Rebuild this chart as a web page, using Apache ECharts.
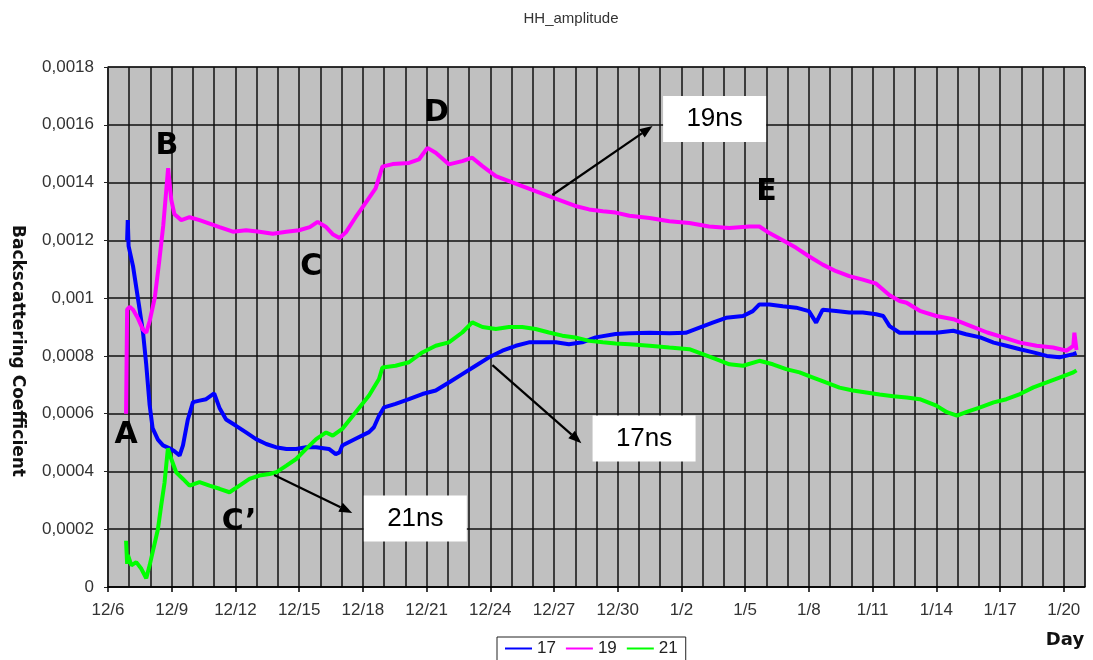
<!DOCTYPE html>
<html>
<head>
<meta charset="utf-8">
<script src="https://cdn.jsdelivr.net/npm/echarts@6/dist/echarts.min.js"></script>
<style>
  html, body { margin: 0; padding: 0; background: #ffffff; }
  #chart { width: 1093px; height: 660px; }
</style>
</head>
<body>
<div id="chart"></div>
<script>
// ---- data: x = days since 12/6, y = HH backscattering amplitude ----
const dayTickLabels = ['12/6','12/9','12/12','12/15','12/18','12/21','12/24','12/27',
                       '12/30','1/2','1/5','1/8','1/11','1/14','1/17','1/20'];
const seriesNames = ['17', '19', '21'];
const seriesColors = ['#0000ff', '#ff00ff', '#00ff00'];

const s17 = [
  [0.90,0.00120],[0.93,0.00127],[0.97,0.00118],[1.18,0.00111],[1.49,0.00096],[1.65,0.00088],
  [1.80,0.00077],[1.96,0.00063],[2.10,0.00055],[2.35,0.00051],[2.59,0.00049],[2.90,0.00048],
  [3.13,0.00047],[3.37,0.000455],[3.53,0.00049],[3.76,0.00058],[4.00,0.00064],[4.31,0.000645],
  [4.62,0.00065],[5.00,0.00067],[5.25,0.00062],[5.56,0.00058],[6.03,0.000558],[6.50,0.000535],
  [6.97,0.000512],[7.45,0.000495],[7.90,0.000484],[8.40,0.000478],[8.86,0.000478],[9.33,0.000484],
  [9.80,0.000484],[10.40,0.000478],[10.72,0.00046],[10.90,0.000466],[11.03,0.00049],[11.66,0.000513],
  [12.29,0.000536],[12.52,0.000553],[12.76,0.000593],[13.00,0.000622],[13.54,0.000634],[14.17,0.00065],
  [14.80,0.000668],[15.43,0.00068],[16.05,0.000708],[16.68,0.000737],[17.31,0.000766],[17.94,0.000795],
  [18.57,0.000818],[19.20,0.000835],[19.82,0.000847],[20.45,0.000847],[21.08,0.000847],[21.70,0.00084],
  [22.33,0.000847],[22.96,0.000864],[23.90,0.000876],[24.55,0.000878],[25.50,0.00088],[26.43,0.000878],
  [27.20,0.00088],[27.85,0.000898],[28.47,0.000915],[29.10,0.000932],[29.90,0.000938],[30.36,0.000955],
  [30.67,0.000978],[31.14,0.000978],[31.77,0.000972],[32.40,0.000967],[33.00,0.000955],[33.34,0.000915],
  [33.65,0.00096],[34.28,0.000955],[34.90,0.00095],[35.54,0.00095],[36.17,0.000944],[36.50,0.000938],
  [36.80,0.000903],[37.27,0.00088],[37.60,0.00088],[38.22,0.00088],[39.00,0.00088],[39.80,0.000887],
  [40.40,0.000875],[41.07,0.000864],[41.70,0.000846],[42.30,0.000835],[42.94,0.000823],[43.57,0.000812],
  [44.20,0.0008],[44.80,0.000795],[45.45,0.000806],[45.60,0.00081]
];

const s19 = [
  [0.85,0.00060],[0.90,0.00096],[1.02,0.00097],[1.18,0.00096],[1.41,0.00093],[1.65,0.00089],
  [1.80,0.00088],[1.96,0.00092],[2.20,0.00100],[2.40,0.00112],[2.60,0.00125],[2.75,0.00138],
  [2.83,0.00145],[2.98,0.00134],[3.13,0.00129],[3.45,0.00127],[3.84,0.00128],[4.31,0.00127],
  [4.78,0.001258],[5.25,0.001246],[5.88,0.00123],[6.50,0.001235],[7.13,0.00123],[7.76,0.001223],
  [8.40,0.00123],[9.00,0.001235],[9.50,0.001246],[9.87,0.001264],[10.27,0.001246],[10.60,0.00122],
  [10.90,0.001208],[11.19,0.001227],[11.66,0.00128],[12.13,0.00133],[12.60,0.00138],[12.92,0.001455],
  [13.40,0.001464],[14.17,0.001468],[14.64,0.00148],[15.04,0.00152],[15.43,0.001503],[16.05,0.001463],
  [16.68,0.001474],[17.15,0.001486],[17.63,0.001457],[18.26,0.001422],[18.88,0.001405],[19.50,0.001388],
  [20.13,0.00137],[20.76,0.001353],[21.39,0.001336],[22.00,0.001319],[22.65,0.001307],[23.30,0.001301],
  [23.90,0.001296],[24.55,0.001285],[25.50,0.001277],[26.43,0.001266],[27.37,0.00126],[28.30,0.001248],
  [29.25,0.001243],[30.20,0.001248],[30.67,0.001248],[31.14,0.001225],[31.77,0.0012],[32.40,0.001174],
  [33.00,0.001145],[33.65,0.001116],[34.28,0.001093],[34.90,0.001076],[35.54,0.001064],[36.17,0.00105],
  [36.80,0.00101],[37.27,0.00099],[37.60,0.000984],[38.22,0.000956],[39.00,0.000938],[39.80,0.000927],
  [40.60,0.000904],[41.40,0.000881],[42.15,0.000864],[42.94,0.000846],[43.72,0.000835],[44.50,0.000829],
  [45.14,0.000818],[45.45,0.000835],[45.50,0.00088],[45.60,0.00082]
];

const s21 = [
  [0.85,0.00016],[0.90,0.00008],[0.94,0.00011],[1.10,0.000075],[1.33,0.000086],[1.57,0.000063],
  [1.80,0.00003],[1.96,0.000075],[2.10,0.00012],[2.35,0.0002],[2.50,0.00028],[2.66,0.00036],
  [2.82,0.00048],[2.98,0.000443],[3.21,0.000397],[3.53,0.000374],[3.84,0.000351],[4.31,0.000363],
  [4.78,0.000351],[5.25,0.00034],[5.72,0.000328],[6.19,0.000351],[6.66,0.000374],[7.13,0.000386],
  [7.60,0.000391],[7.92,0.000397],[8.40,0.00042],[8.86,0.000443],[9.33,0.000478],[9.80,0.000512],
  [10.27,0.000535],[10.58,0.000524],[11.03,0.000547],[11.66,0.000605],[12.29,0.000663],[12.76,0.00072],
  [12.92,0.00076],[13.54,0.000766],[14.17,0.000778],[14.80,0.000812],[15.43,0.000835],[16.05,0.000847],
  [16.68,0.000881],[17.15,0.000916],[17.63,0.0009],[18.26,0.000893],[18.88,0.0009],[19.50,0.0009],
  [20.13,0.000893],[20.76,0.000881],[21.39,0.00087],[22.00,0.000864],[22.65,0.000852],[23.30,0.000847],
  [23.90,0.000843],[24.55,0.00084],[25.50,0.000835],[26.43,0.000829],[27.37,0.000823],[28.00,0.000806],
  [28.63,0.000789],[29.26,0.000771],[29.90,0.000766],[30.67,0.000783],[31.30,0.000771],[31.93,0.000754],
  [32.56,0.000743],[33.20,0.000725],[33.80,0.000708],[34.44,0.00069],[35.07,0.00068],[35.70,0.000673],
  [36.33,0.000666],[36.97,0.00066],[37.60,0.000656],[38.22,0.00065],[39.00,0.000628],[39.50,0.000605],
  [39.97,0.000593],[40.40,0.000605],[41.07,0.000622],[41.70,0.000639],[42.30,0.00065],[42.94,0.000668],
  [43.57,0.000691],[44.20,0.000708],[44.80,0.000725],[45.45,0.000743],[45.60,0.00075]
];

// event letters, anchored in data coordinates [day, value]
const eventLetters = [
  { text: 'A',  at: [0.85, 0.000526] },
  { text: 'B',  at: [2.78, 0.001527] },
  { text: 'C',  at: [9.57, 0.001108] },
  { text: 'C\u2019', at: [6.17, 0.000225] },
  { text: 'D',  at: [15.46, 0.001641] },
  { text: 'E',  at: [31.0, 0.001367] }
];

// labelled arrows naming each trace
const callouts = [
  { text: '19ns', box: [28.56, 0.00162],  from: [20.92, 0.001357], to: [25.64, 0.001596] },
  { text: '17ns', box: [25.24, 0.000514], from: [18.10, 0.000768], to: [22.29, 0.000498] },
  { text: '21ns', box: [14.47, 0.000237], from: [7.82, 0.000388],  to: [11.50, 0.000256] }
];

const DAY_MAX = 46;
const labelFont = '"Liberation Sans", Arial, sans-serif';

const categoryDays = [];
for (let i = 0; i <= DAY_MAX; i++) {
  categoryDays.push(i % 3 === 0 && dayTickLabels[i / 3] ? dayTickLabels[i / 3] : '');
}

const chart = echarts.init(document.getElementById('chart'));

const option = {
  animation: false,
  backgroundColor: '#ffffff',
  grid: {
    left: 108, right: 8, top: 67, bottom: 73,
    show: true, backgroundColor: '#c0c0c0', borderColor: '#333', borderWidth: 1
  },
  legend: {
    data: seriesNames,
    left: 497, top: 637,
    orient: 'horizontal',
    backgroundColor: '#ffffff',
    borderColor: '#222', borderWidth: 1,
    padding: [3, 8, 8, 8],
    itemWidth: 27, itemHeight: 2, itemGap: 10,
    icon: 'rect',
    textStyle: { fontSize: 17, color: '#222', fontFamily: labelFont }
  },
  xAxis: [
    {
      type: 'value', min: 0, max: DAY_MAX, interval: 1,
      position: 'bottom',
      axisLine: { show: true, lineStyle: { color: '#000', width: 1.5 } },
      axisTick: { show: false },
      axisLabel: { show: false },
      splitLine: { show: true, lineStyle: { color: '#111', width: 1.5 } }
    },
    {
      type: 'category', data: categoryDays, boundaryGap: false,
      position: 'bottom',
      axisLine: { show: false },
      axisTick: { show: true, interval: 2, length: 5, lineStyle: { color: '#000', width: 1.5 } },
      axisLabel: { interval: 2, fontSize: 17, color: '#333', margin: 15, fontFamily: labelFont },
      splitLine: { show: false }
    }
  ],
  yAxis: {
    type: 'value', min: 0, max: 0.0018, interval: 0.0002,
    axisLine: { show: true, lineStyle: { color: '#222', width: 1.5 } },
    axisTick: { show: true, length: 4, lineStyle: { color: '#222' } },
    axisLabel: {
      fontSize: 17, color: '#333', margin: 14, fontFamily: labelFont,
      formatter: v => String(parseFloat(v.toFixed(6))).replace('.', ',')
    },
    splitLine: { show: true, lineStyle: { color: '#111', width: 1.5 } }
  },
  series: [s17, s19, s21].map((d, i) => ({
    name: seriesNames[i],
    type: 'line',
    xAxisIndex: 0,
    data: d,
    showSymbol: false,
    color: seriesColors[i],
    lineStyle: { width: 4, color: seriesColors[i] },
    z: 3 + i
  }))
};

chart.setOption(option);

// ---- annotation overlay (letters, callout boxes, arrows, axis names, title) ----
function px(p) { return chart.convertToPixel({ xAxisIndex: 0, yAxisIndex: 0 }, p); }

function arrow(from, to) {
  const a = px(from), b = px(to);
  const dx = b[0] - a[0], dy = b[1] - a[1];
  const len = Math.hypot(dx, dy), ux = dx / len, uy = dy / len;
  const headL = 13, headW = 5;
  const bx = b[0] - ux * headL, by = b[1] - uy * headL;
  return [
    { type: 'line', z: 20, shape: { x1: a[0], y1: a[1], x2: bx, y2: by },
      style: { stroke: '#000', lineWidth: 2.2 } },
    { type: 'polygon', z: 20,
      shape: { points: [[b[0], b[1]], [bx - uy * headW, by + ux * headW], [bx + uy * headW, by - ux * headW]] },
      style: { fill: '#000' } }
  ];
}

const graphics = [];

graphics.push({
  type: 'text', x: 571, y: 19, z: 20,
  style: { text: 'HH_amplitude', font: '15px ' + labelFont, fill: '#333', align: 'center', verticalAlign: 'middle' }
});
graphics.push({
  type: 'text', x: 17, y: 351, rotation: -Math.PI / 2, z: 20,
  style: { text: 'Backscattering Coefficient', font: 'bold 17px "DejaVu Sans", sans-serif', fill: '#111',
           align: 'center', verticalAlign: 'middle' }
});
graphics.push({
  type: 'text', x: 1065, y: 640, z: 20,
  style: { text: 'Day', font: 'bold 18px "DejaVu Sans", sans-serif', fill: '#111', align: 'center', verticalAlign: 'middle' }
});

eventLetters.forEach(m => {
  const p = px(m.at);
  graphics.push({
    type: 'text', x: p[0], y: p[1], z: 20,
    style: { text: m.text, font: 'bold 30px "DejaVu Sans", sans-serif', fill: '#000', align: 'center', verticalAlign: 'middle' }
  });
});

callouts.forEach(c => {
  graphics.push(...arrow(c.from, c.to));
  const p = px(c.box);
  const w = 103, h = 46;
  graphics.push({
    type: 'rect', z: 21, shape: { x: p[0] - w / 2, y: p[1] - h / 2, width: w, height: h },
    style: { fill: '#ffffff' }
  });
  graphics.push({
    type: 'text', x: p[0], y: p[1], z: 22,
    style: { text: c.text, font: '26px ' + labelFont, fill: '#000', align: 'center', verticalAlign: 'middle' }
  });
});

chart.setOption({ graphic: graphics });
</script>
</body>
</html>
